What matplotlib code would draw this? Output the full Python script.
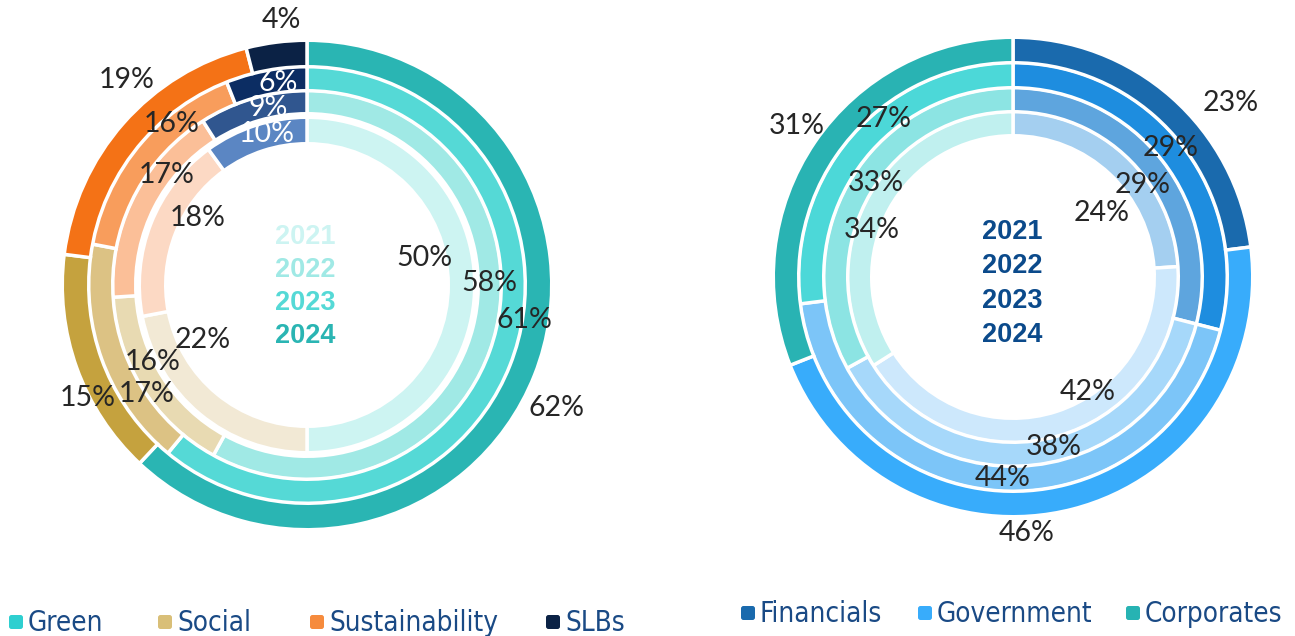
import matplotlib.pyplot as plt
from matplotlib.patches import FancyBboxPatch

W, H = 1295, 636

years = ["2021", "2022", "2023", "2024"]

# left chart: by type of label (inner ring = 2021, outer ring = 2024)
types = ["Green", "Social", "Sustainability", "SLBs"]
green = [50, 58, 61, 62]
social = [22, 16, 17, 15]
sustainability = [18, 17, 16, 19]
slbs = [10, 9, 6, 4]

# right chart: by issuer
sectors = ["Financials", "Government", "Corporates"]
financials = [24, 29, 29, 23]
government = [42, 38, 44, 46]
corporates = [34, 33, 27, 31]

# colours, one per year (light -> dark)
green_c = ["#cdf4f2", "#a0e9e5", "#55d9d6", "#2ab5b3"]
social_c = ["#f2e9d5", "#e8dab2", "#dcc284", "#c5a23e"]
sust_c = ["#fcd9c4", "#fbbf98", "#f89d5c", "#f47216"]
slbs_c = ["#5b86c3", "#30568f", "#0c2d63", "#0b2245"]

fin_c = ["#a4cff0", "#5ea5de", "#1e8ddf", "#1a6aad"]
gov_c = ["#cde8fc", "#a6d8fa", "#7cc5f8", "#38acfb"]
corp_c = ["#c0f0ef", "#8ce4e3", "#4cd8d8", "#29b3b3"]

legend_left_c = ["#2ecfd0", "#d9bf78", "#f68b3d", "#0b2245"]
legend_right_c = ["#1a6aad", "#38acfb", "#27b3b3"]

# geometry (pixels): centre and coloured ring extents (inner, outer)
left_c = (307, 285)
left_rings = [(143, 166), (173, 193), (196, 218), (220, 243)]
right_c = (1013, 277)
right_rings = [(143, 164), (167, 188), (191, 213), (216, 238)]
EDGE = 2.5  # pt
edge_px = EDGE * 100 / 72

# percent label positions (pixel centres), per series, 2021..2024
left_pos = {
    "Green": [(424, 258), (489, 283), (524, 320), (557, 408)],
    "Social": [(203, 340), (153, 362), (147, 394), (88, 398)],
    "Sustainability": [(198, 218), (167, 175), (172, 124), (127, 80)],
    "SLBs": [(267, 134), (268, 108), (278, 83), (281, 20)],
}
right_pos = {
    "Financials": [(1102, 213), (1143, 185), (1171, 148), (1231, 103)],
    "Government": [(1088, 392), (1054, 447), (1003, 478), (1027, 533)],
    "Corporates": [(872, 230), (876, 183), (884, 119), (797, 126)],
}

fig = plt.figure(figsize=(W / 100, H / 100), dpi=100)
ax = fig.add_axes([0, 0, 1, 1])


def ring(vals, colors, centre, extent):
    r_in, r_out = extent
    ax.pie(vals, colors=colors, radius=r_out + edge_px / 2, center=(centre[0], H - centre[1]),
           startangle=90, counterclock=False, frame=True,
           wedgeprops=dict(width=(r_out - r_in) + edge_px, edgecolor="white", linewidth=EDGE))


pct_font = dict(family=["Lato", "DejaVu Sans"], fontweight="normal", fontsize=20.5,
                ha="center", va="center")

left_series = [green, social, sustainability, slbs]
left_cols = [green_c, social_c, sust_c, slbs_c]
for i in range(4):
    ring([s[i] for s in left_series], [c[i] for c in left_cols], left_c, left_rings[i])
    for name, s in zip(types, left_series):
        x, y = left_pos[name][i]
        col = "white" if (name == "SLBs" and i < 3) else "#262626"
        ax.text(x, H - y, f"{s[i]}%", color=col, **pct_font)

right_series = [financials, government, corporates]
right_cols = [fin_c, gov_c, corp_c]
for i in range(4):
    ring([s[i] for s in right_series], [c[i] for c in right_cols], right_c, right_rings[i])
    for name, s in zip(sectors, right_series):
        x, y = right_pos[name][i]
        ax.text(x, H - y, f"{s[i]}%", color="#262626", **pct_font)

# year stacks in the middle
year_font = dict(family=["Liberation Sans", "DejaVu Sans"], fontweight="bold", fontsize=19.5,
                 ha="center", va="center")
for i, yr in enumerate(years):
    ax.text(305, H - (237 + 33 * i), yr, color=green_c[i], **year_font)
    ax.text(1012, H - (232 + 34.3 * i), yr, color="#0b4a8b", **year_font)

# legends
leg_font = dict(family="DejaVu Sans", fontsize=20, fontstretch="condensed",
                color="#1a4a85", ha="left", va="center")


def legend_item(x_sq, y, color, label):
    ax.add_patch(FancyBboxPatch((x_sq, H - y - 7), 14, 14, boxstyle="round,pad=0,rounding_size=2.5",
                                facecolor=color, edgecolor="none"))
    ax.text(x_sq + 19, H - y - 1, label, **leg_font)


for x, c, t in zip([9, 158, 310, 546], legend_left_c, types):
    legend_item(x, 622, c, t)
for x, c, t in zip([741, 918, 1126], legend_right_c, sectors):
    legend_item(x, 613, c, t)

ax.set_xlim(0, W)
ax.set_ylim(0, H)
ax.set_aspect("equal")
ax.axis("off")

fig.savefig("out.png", dpi=100)
